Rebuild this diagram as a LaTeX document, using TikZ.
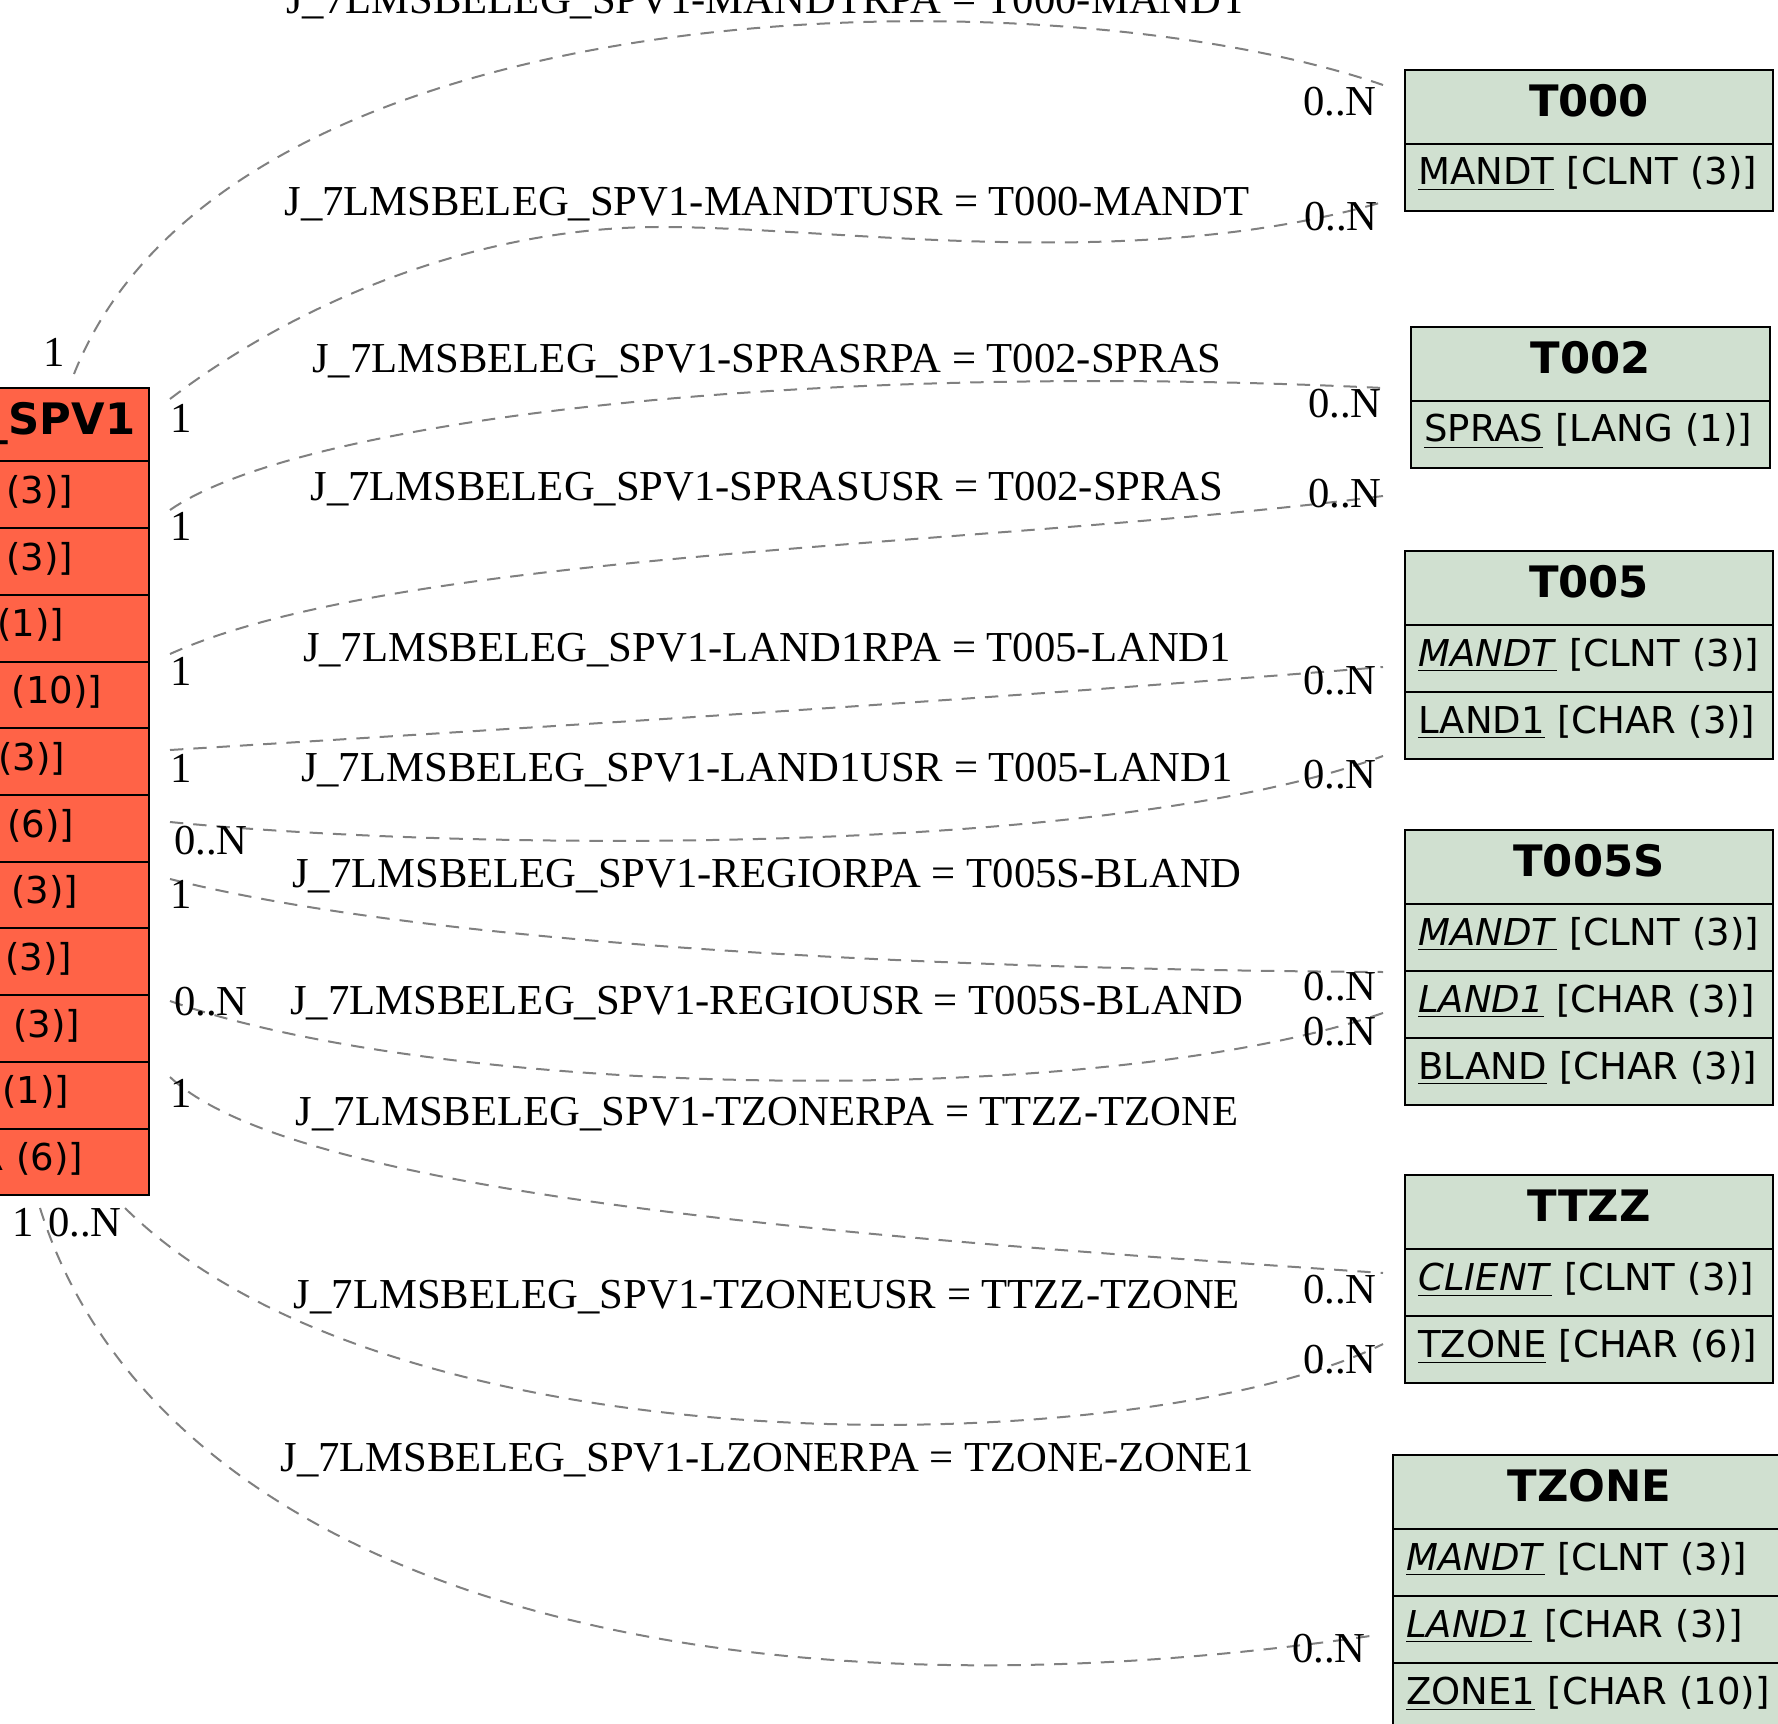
\documentclass[tikz,border=0pt]{standalone}
\usepackage{fontspec}
\setmainfont{Liberation Serif}
\newfontfamily\dejavu{DejaVu Sans}
\definecolor{spvred}{RGB}{255,99,71}
\definecolor{tabgreen}{RGB}{208,224,208}
\definecolor{relgray}{RGB}{128,128,128}
\tikzset{
  tabhead/.style={draw, fill=tabgreen, line width=0.6pt, outer sep=0pt, anchor=north west,
    minimum height=22.2pt, inner xsep=4pt, align=center,
    text height=9.5pt, text depth=3.6pt,
    font=\dejavu\bfseries\fontsize{13}{15}\selectfont},
  tabrow/.style={draw, fill=tabgreen, line width=0.6pt, outer sep=0pt, anchor=north west,
    minimum height=20.1pt, inner xsep=4pt, align=left,
    text height=8.1pt, text depth=3.6pt,
    font=\dejavu\fontsize{11.1}{13}\selectfont},
  rel/.style={draw=relgray, line width=0.6pt, dash pattern=on 4pt off 3pt},
}
\newcommand{\keyf}[1]{\underline{#1}}
\newcommand{\keyi}[1]{\underline{\textit{#1}}}

\begin{document}
\begin{tikzpicture}[x=0.3pt,y=-0.3pt]
\useasboundingbox (0,0) rectangle (1778,1724);
\clip (0,0) rectangle (1778,1724);

% J_7LMSBELEG_SPV1 (cut at the left edge)
\begin{scope}[every node/.style={draw, fill=spvred, line width=0.6pt, outer sep=0pt, anchor=north east, minimum width=134.5pt}]
  \node[minimum height=22.05pt] (spv)   at (148.5,388)    {};
  \node[minimum height=20.01pt] (spv1)  at (148.5,461.5)  {};
  \node[minimum height=20.01pt] (spv2)  at (148.5,528.2)  {};
  \node[minimum height=20.01pt] (spv3)  at (148.5,594.9)  {};
  \node[minimum height=20.01pt] (spv4)  at (148.5,661.6)  {};
  \node[minimum height=20.01pt] (spv5)  at (148.5,728.3)  {};
  \node[minimum height=20.01pt] (spv6)  at (148.5,795)    {};
  \node[minimum height=20.01pt] (spv7)  at (148.5,861.7)  {};
  \node[minimum height=20.01pt] (spv8)  at (148.5,928.4)  {};
  \node[minimum height=20.01pt] (spv9)  at (148.5,995.1)  {};
  \node[minimum height=20.01pt] (spv10) at (148.5,1061.8) {};
  \node[minimum height=20.01pt] (spv11) at (148.5,1128.5) {};
\end{scope}

\begin{scope}[every node/.style={anchor=base east, inner sep=0pt, font=\dejavu\fontsize{11.1}{13}\selectfont}]
  \node[font=\dejavu\bfseries\fontsize{13}{15}\selectfont] (spvt) at (136,435) {J\_7LMSBELEG\_SPV1};
  \node (spvt1)  at (74,503.5)   {MANDTRPA [CLNT (3)]};
  \node (spvt2)  at (74,570.2)   {MANDTUSR [CLNT (3)]};
  \node (spvt3)  at (65,636.9)   {SPRASRPA [LANG (1)]};
  \node (spvt4)  at (103,703.6)  {LZONERPA [CHAR (10)]};
  \node (spvt5)  at (66,770.3)   {LAND1RPA [CHAR (3)]};
  \node (spvt6)  at (75,837)     {TZONERPA [CHAR (6)]};
  \node (spvt7)  at (79,903.7)   {REGIORPA [CHAR (3)]};
  \node (spvt8)  at (73,970.4)   {LAND1USR [CHAR (3)]};
  \node (spvt9)  at (81,1037.1)  {REGIOUSR [CHAR (3)]};
  \node (spvt10) at (70,1103.8)  {SPRASUSR [LANG (1)]};
  \node (spvt11) at (84,1170.5)  {TZONEUSR [CHAR (6)]};
\end{scope}

% target tables
\node[tabhead, text width=102.4pt] (t000) at (1405,70) {T000};
\node[tabrow, text width=102.4pt] (t000a) at (t000.south west) {\keyf{MANDT} [CLNT (3)]};

\node[tabhead, text width=99.7pt] (t002) at (1411,327) {T002};
\node[tabrow, text width=99.7pt] (t002a) at (t002.south west) {\keyf{SPRAS} [LANG (1)]};

\node[tabhead, text width=102.4pt] (t005) at (1405,551) {T005};
\node[tabrow, text width=102.4pt] (t005a) at (t005.south west) {\keyi{MANDT} [CLNT (3)]};
\node[tabrow, text width=102.4pt] (t005b) at (t005a.south west) {\keyf{LAND1} [CHAR (3)]};

\node[tabhead, text width=102.4pt] (t005s) at (1405,830) {T005S};
\node[tabrow, text width=102.4pt] (t005sa) at (t005s.south west) {\keyi{MANDT} [CLNT (3)]};
\node[tabrow, text width=102.4pt] (t005sb) at (t005sa.south west) {\keyi{LAND1} [CHAR (3)]};
\node[tabrow, text width=102.4pt] (t005sc) at (t005sb.south west) {\keyf{BLAND} [CHAR (3)]};

\node[tabhead, text width=102.4pt] (ttzz) at (1405,1175) {TTZZ};
\node[tabrow, text width=102.4pt] (ttzza) at (ttzz.south west) {\keyi{CLIENT} [CLNT (3)]};
\node[tabrow, text width=102.4pt] (ttzzb) at (ttzza.south west) {\keyf{TZONE} [CHAR (6)]};

\node[tabhead, text width=109.9pt] (tzone) at (1393,1455) {TZONE};
\node[tabrow, text width=109.9pt] (tzonea) at (tzone.south west) {\keyi{MANDT} [CLNT (3)]};
\node[tabrow, text width=109.9pt] (tzoneb) at (tzonea.south west) {\keyi{LAND1} [CHAR (3)]};
\node[tabrow, text width=109.9pt] (tzonec) at (tzoneb.south west) {\keyf{ZONE1} [CHAR (10)]};

% ends of the relations
\coordinate (mandtrpaS) at (74,374);    \coordinate (mandtrpaT) at (1383,85);
\coordinate (mandtusrS) at (170,399);   \coordinate (mandtusrT) at (1383,202);
\coordinate (sprasrpaS) at (170,510);   \coordinate (sprasrpaT) at (1383,388);
\coordinate (sprasusrS) at (170,654);   \coordinate (sprasusrT) at (1383,496);
\coordinate (land1rpaS) at (170,750);   \coordinate (land1rpaT) at (1383,667);
\coordinate (land1usrS) at (170,822);   \coordinate (land1usrT) at (1383,756);
\coordinate (regiorpaS) at (170,879);   \coordinate (regiorpaT) at (1383,972);
\coordinate (regiousrS) at (170,1001);  \coordinate (regiousrT) at (1383,1013);
\coordinate (tzonerpaS) at (170,1077);  \coordinate (tzonerpaT) at (1383,1273);
\coordinate (tzoneusrS) at (125,1208);  \coordinate (tzoneusrT) at (1383,1344);
\coordinate (lzonerpaS) at (40,1208);   \coordinate (lzonerpaT) at (1370,1636);

\draw[rel] (mandtrpaS) .. controls (230,-20) and (1050,-30) .. (mandtrpaT);
\draw[rel] (mandtusrS) .. controls (300,300) and (480,227) .. (660,227)
                       .. controls (840,227) and (1130,275) .. (mandtusrT);
\draw[rel] (sprasrpaS) .. controls (300,420) and (800,360) .. (sprasrpaT);
\draw[rel] (sprasusrS) .. controls (400,550) and (980,548) .. (sprasusrT);
\draw[rel] (land1rpaS) .. controls (575,725) and (980,700) .. (land1rpaT);
\draw[rel] (land1usrS) .. controls (450,850) and (1100,860) .. (land1usrT);
\draw[rel] (regiorpaS) .. controls (450,950) and (1000,970) .. (regiorpaT);
\draw[rel] (regiousrS) .. controls (450,1100) and (1100,1110) .. (regiousrT);
\draw[rel] (tzonerpaS) .. controls (300,1200) and (900,1240) .. (tzonerpaT);
\draw[rel] (tzoneusrS) .. controls (400,1480) and (1150,1460) .. (tzoneusrT);
\draw[rel] (lzonerpaS) .. controls (150,1560) and (650,1740) .. (lzonerpaT);

\begin{scope}[every node/.style={anchor=base, inner sep=0pt, font=\fontsize{12.8}{15}\selectfont}]
  \node (mandtrpa) at (767,13.6)  {J\_7LMSBELEG\_SPV1-MANDTRPA = T000-MANDT};
  \node (mandtusr) at (767,215.5) {J\_7LMSBELEG\_SPV1-MANDTUSR = T000-MANDT};
  \node (sprasrpa) at (767,373)   {J\_7LMSBELEG\_SPV1-SPRASRPA = T002-SPRAS};
  \node (sprasusr) at (767,501)   {J\_7LMSBELEG\_SPV1-SPRASUSR = T002-SPRAS};
  \node (land1rpa) at (767,661)   {J\_7LMSBELEG\_SPV1-LAND1RPA = T005-LAND1};
  \node (land1usr) at (767,781)   {J\_7LMSBELEG\_SPV1-LAND1USR = T005-LAND1};
  \node (regiorpa) at (767,887)   {J\_7LMSBELEG\_SPV1-REGIORPA = T005S-BLAND};
  \node (regiousr) at (767,1014)  {J\_7LMSBELEG\_SPV1-REGIOUSR = T005S-BLAND};
  \node (tzonerpa) at (767,1125)  {J\_7LMSBELEG\_SPV1-TZONERPA = TTZZ-TZONE};
  \node (tzoneusr) at (767,1308.6){J\_7LMSBELEG\_SPV1-TZONEUSR = TTZZ-TZONE};
  \node (lzonerpa) at (767,1471)  {J\_7LMSBELEG\_SPV1-LZONERPA = TZONE-ZONE1};

  % cardinalities
  \node (c1s)  at (54,367)    {1};    \node (c1t)  at (1340,115.7) {0..N};
  \node (c2s)  at (181,433)   {1};    \node (c2t)  at (1341,231)   {0..N};
  \node (c3s)  at (181,541)   {1};    \node (c3t)  at (1345,418)   {0..N};
  \node (c4s)  at (181,685)   {1};    \node (c4t)  at (1345,508)   {0..N};
  \node (c5s)  at (181,782)   {1};    \node (c5t)  at (1340,694)   {0..N};
  \node (c6s)  at (211,854)   {0..N}; \node (c6t)  at (1340,788)   {0..N};
  \node (c7s)  at (181,908)   {1};    \node (c7t)  at (1340,1000)  {0..N};
  \node (c8s)  at (211,1015)  {0..N}; \node (c8t)  at (1340,1045.5){0..N};
  \node (c9s)  at (181,1107)  {1};    \node (c9t)  at (1340,1303)  {0..N};
  \node (c10s) at (85,1236)   {0..N}; \node (c10t) at (1340,1373)  {0..N};
  \node (c11s) at (23,1236)   {1};    \node (c11t) at (1329,1662)  {0..N};
\end{scope}

\end{tikzpicture}
\end{document}
